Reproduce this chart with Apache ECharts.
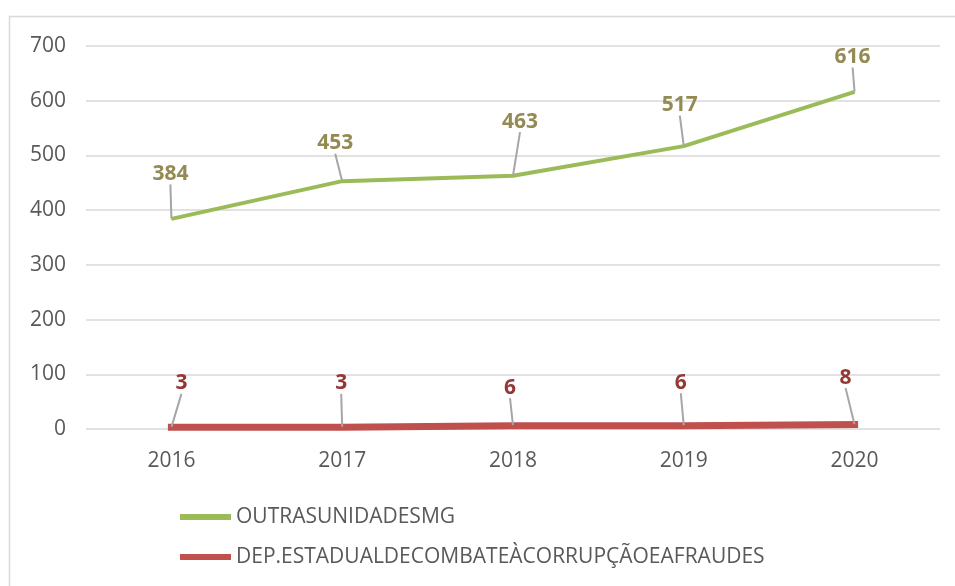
<!DOCTYPE html>
<html lang="pt">
<head>
    <meta http-equiv="Content-Type" content="text/html; charset=UTF-8">
    <title>Outras unidades MG x Dep. Estadual</title>
    <script type="text/javascript" src="https://cdn.jsdelivr.net/npm/echarts@6/dist/echarts.min.js"></script>
</head>
<body style="margin:0;width:955px;height:586px;background:#fff">
<div id="main" style="width:955px;height:586px"></div>
<script type="text/javascript">
    // dados
    var anos = ['2016', '2017', '2018', '2019', '2020'];
    var outrasUnidades = [384, 453, 463, 517, 616];
    var depEstadual = [3, 3, 6, 6, 8];
    var nomeVerde = 'OUTRASUNIDADESMG';
    var nomeVermelho = 'DEP.ESTADUALDECOMBATEÀCORRUPÇÃOEAFRAUDES';

    // deslocamento dos rótulos (dx, dy) em relação ao ponto
    var desvioVerde = [[-1, -45], [-7, -38], [7, -54], [-4, -41], [-2, -35]];
    var desvioVermelho = [[10, -44], [-1, -44], [-3, -38], [-3, -43], [-9, -47]];

    var myChart = echarts.init(document.getElementById('main'));

    myChart.setOption({
        animation: false,
        backgroundColor: '#fff',
        graphic: [{
            type: 'polyline',
            shape: { points: [[9.5, 586], [9.5, 16.5], [955, 16.5]] },
            style: { fill: 'none', stroke: '#D9D9D9', lineWidth: 1.5 },
            silent: true
        }],
        grid: { left: 86, right: 15, top: 46, bottom: 157 },
        legend: {
            orient: 'vertical',
            left: 175,
            top: 501,
            itemGap: 18,
            itemWidth: 51,
            itemHeight: 6,
            icon: 'rect',
            textStyle: { color: '#595959', fontSize: 21, lineHeight: 22, fontFamily: 'Open Sans' },
            data: [nomeVerde, nomeVermelho]
        },
        xAxis: {
            type: 'category',
            data: anos,
            axisLine: { show: false },
            axisTick: { show: false },
            axisLabel: { color: '#595959', fontSize: 21, margin: 22, fontFamily: 'Open Sans' }
        },
        yAxis: {
            type: 'value',
            min: 0,
            max: 700,
            interval: 100,
            axisLabel: { color: '#595959', fontSize: 21, margin: 20, fontFamily: 'Open Sans' },
            splitLine: { lineStyle: { color: '#D9D9D9', width: 1.5 } }
        },
        series: [{
            name: nomeVerde,
            type: 'line',
            data: outrasUnidades,
            symbol: 'circle',
            symbolSize: 1,
            itemStyle: { color: '#9BBB59' },
            lineStyle: { color: '#9BBB59', width: 4 },
            label: {
                show: true,
                position: 'inside',
                color: '#948A54',
                fontSize: 21,
                fontWeight: 'bold',
                fontFamily: 'Open Sans'
            },
            labelLine: { show: true, lineStyle: { color: '#A6A6A6', width: 2 } },
            labelLayout: function (params) {
                var d = desvioVerde[params.dataIndex];
                return { dx: d[0], dy: d[1] };
            }
        }, {
            name: nomeVermelho,
            type: 'line',
            data: depEstadual,
            symbol: 'circle',
            symbolSize: 1,
            itemStyle: { color: '#C0504D' },
            lineStyle: { color: '#C0504D', width: 7, cap: 'square' },
            label: {
                show: true,
                position: 'inside',
                color: '#953735',
                fontSize: 21,
                fontWeight: 'bold',
                fontFamily: 'Open Sans'
            },
            labelLine: { show: true, lineStyle: { color: '#A6A6A6', width: 2 } },
            labelLayout: function (params) {
                var d = desvioVermelho[params.dataIndex];
                return { dx: d[0], dy: d[1] };
            }
        }]
    });
</script>
</body>
</html>
